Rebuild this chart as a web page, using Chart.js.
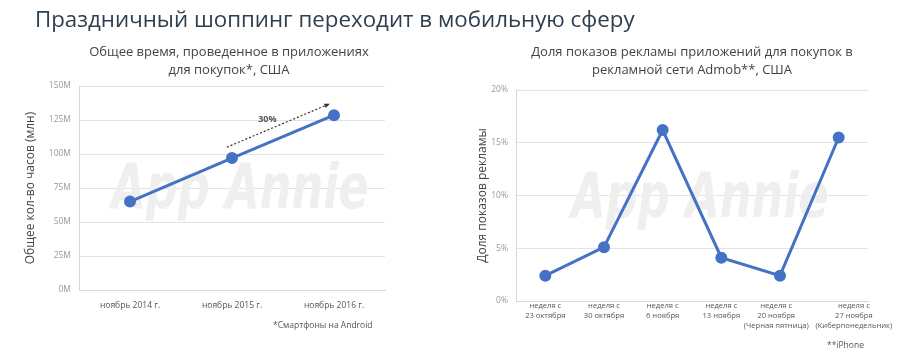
<!DOCTYPE html>
<html>
<head>
<meta charset="utf-8">
<script src="https://cdn.jsdelivr.net/npm/chart.js@4"></script>
<style>
  body { margin:0; width:900px; height:352px; background:#fff; position:relative; overflow:hidden; font-family:"Open Sans", sans-serif; }
  .box { position:absolute; top:0; width:450px; height:352px; }
  .txt { position:absolute; white-space:nowrap; }
  #mainTitle { left:35px; top:3px; font-size:22.3px; color:#2f4050; }
  .ctitle { font-size:13px; color:#444; line-height:18px; text-align:center; transform:translateX(-50%); }
  .note { font-size:8.5px; color:#555; }
</style>
</head>
<body>
<div class="box" style="left:0"><canvas id="left"></canvas></div>
<div class="box" style="left:450px"><canvas id="right"></canvas></div>
<div class="txt" id="mainTitle">Праздничный шоппинг переходит в мобильную сферу</div>
<div class="txt ctitle" style="left:229px; top:42px">Общее время, проведенное в приложениях<br>для покупок*, США</div>
<div class="txt ctitle" style="left:692px; top:42px">Доля показов рекламы приложений для покупок в<br>рекламной сети Admob**, США</div>
<div class="txt note" style="left:273px; top:319px">*Смартфоны на Android</div>
<div class="txt note" style="left:827px; top:339px">**iPhone</div>
<script>
// total hours in shopping apps, millions
var yearLabels = ['ноябрь 2014 г.', 'ноябрь 2015 г.', 'ноябрь 2016 г.'];
var hoursValues = [65, 97, 128.5];
var hoursTicks = [0, 25, 50, 75, 100, 125, 150];

// ad impression share, %
var weekLabels = [
  ['неделя с', '23 октября'],
  ['неделя с', '30 октября'],
  ['неделя с', '6 ноября'],
  ['неделя с', '13 ноября'],
  ['неделя с', '20 ноября', '(Черная пятница)'],
  ['неделя с', '27 ноября', '(Киберпонедельник)']
];
var shareValues = [2.4, 5.1, 16.2, 4.1, 2.4, 15.5];

// growth arrow: [index, value] from / to
var arrowFrom = [0.95, 105];
var arrowTo = [1.96, 137];
var arrowText = '30%';

var blue = '#4472c4';
Chart.defaults.font.family = '"Open Sans", sans-serif';
Chart.defaults.animation = false;

// the last two labels are nudged apart in the original
var sp = '\u2002';
weekLabels[4] = weekLabels[4].map(function (s) { return s + sp + sp; });
weekLabels[5] = weekLabels[5].map(function (s) { return sp.repeat(8) + s; });

var watermark = {
  id: 'watermark',
  beforeDatasetsDraw: function (chart) {
    var a = chart.chartArea, ctx = chart.ctx;
    ctx.save();
    ctx.fillStyle = '#efefef';
    ctx.font = 'italic bold 62px "DejaVu Sans"';
    ctx.textAlign = 'center';
    ctx.textBaseline = 'alphabetic';
    ctx.translate((a.left + a.right) / 2 + 8, a.top + (a.bottom - a.top) * 0.6);
    ctx.scale(0.72, 1);
    ctx.fillText('App Annie', 0, 0);
    ctx.restore();
  }
};

var arrow = {
  id: 'arrow',
  afterDatasetsDraw: function (chart) {
    var x = chart.scales.x, y = chart.scales.y, ctx = chart.ctx;
    var x1 = x.getPixelForValue(arrowFrom[0]), y1 = y.getPixelForValue(arrowFrom[1]);
    var x2 = x.getPixelForValue(arrowTo[0]), y2 = y.getPixelForValue(arrowTo[1]);
    var ang = Math.atan2(y2 - y1, x2 - x1);
    ctx.save();
    ctx.strokeStyle = '#333';
    ctx.lineWidth = 1.2;
    ctx.setLineDash([2, 2]);
    ctx.beginPath();
    ctx.moveTo(x1, y1);
    ctx.lineTo(x2, y2);
    ctx.stroke();
    ctx.setLineDash([]);
    ctx.fillStyle = '#333';
    ctx.beginPath();
    ctx.moveTo(x2, y2);
    ctx.lineTo(x2 - 6 * Math.cos(ang - 0.4), y2 - 6 * Math.sin(ang - 0.4));
    ctx.lineTo(x2 - 6 * Math.cos(ang + 0.4), y2 - 6 * Math.sin(ang + 0.4));
    ctx.closePath();
    ctx.fill();
    ctx.font = 'bold 9px "Open Sans"';
    ctx.fillStyle = '#555';
    ctx.textAlign = 'center';
    ctx.fillText(arrowText, (x1 + x2) / 2 - 11, (y1 + y2) / 2 - 3);
    ctx.restore();
  }
};

function makeChart(id, labels, values, opts) {
  return new Chart(document.getElementById(id).getContext('2d'), {
    type: 'line',
    data: {
      labels: labels,
      datasets: [{
        data: values,
        borderColor: blue,
        backgroundColor: blue,
        borderWidth: 3,
        pointRadius: 4.5,
        pointHoverRadius: 4.5,
        tension: 0
      }]
    },
    options: {
      responsive: true,
      maintainAspectRatio: false,
      layout: { padding: opts.padding },
      plugins: { legend: { display: false }, tooltip: { enabled: false } },
      scales: {
        x: {
          offset: true,
          grid: { display: false, drawTicks: false },
          border: { color: '#d6d6d6' },
          ticks: { color: '#555', font: { size: opts.xFont, lineHeight: 1.3 }, padding: opts.xPad, maxRotation: 0, autoSkip: false },
          afterFit: function (s) { s.height = opts.xHeight; }
        },
        y: {
          min: 0,
          max: opts.max,
          grid: { color: '#e2e2e2', drawTicks: false },
          border: { color: '#d6d6d6' },
          ticks: {
            stepSize: opts.step,
            color: '#999',
            font: { size: 8.5 },
            padding: 8,
            callback: opts.fmt
          },
          title: { display: true, text: opts.title, color: '#444', font: { size: 12 }, padding: 4 },
          afterFit: function (s) { s.width = opts.yWidth; }
        }
      }
    },
    plugins: opts.plugins
  });
}

makeChart('left', yearLabels, hoursValues, {
  padding: { top: 86, left: 19, right: 65, bottom: 32 },
  xHeight: 30, xPad: 10, xFont: 8.5, yWidth: 60,
  max: hoursTicks[hoursTicks.length - 1], step: hoursTicks[1] - hoursTicks[0],
  fmt: function (v) { return v + 'M'; },
  title: 'Общее кол-во часов (млн)',
  plugins: [watermark, arrow]
});

makeChart('right', weekLabels, shareValues, {
  padding: { top: 90, left: 21, right: 32, bottom: 16 },
  xHeight: 35, xPad: 0, xFont: 7.6, yWidth: 45,
  max: 20, step: 5,
  fmt: function (v) { return v + '%'; },
  title: 'Доля показов рекламы',
  plugins: [watermark]
});
</script>
</body>
</html>
